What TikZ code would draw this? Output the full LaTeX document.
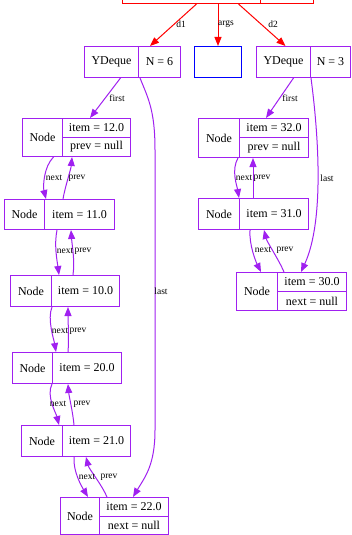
\documentclass[tikz,border=0pt]{standalone}
\usepackage{fontspec}
\setmainfont{Liberation Serif}
\usetikzlibrary{arrows.meta}
\definecolor{pur}{HTML}{A020F0}
\definecolor{rd}{HTML}{FF0000}
\definecolor{bl}{HTML}{0000FF}
\begin{document}
\begin{tikzpicture}[x=1pt,y=-1pt,
  fld/.style={draw=pur,line width=1pt,rectangle,inner sep=0pt,anchor=north west,font=\fontsize{12}{14}\selectfont},
  rfld/.style={fld,draw=rd},
  bfld/.style={fld,draw=bl},
  pe/.style={draw=pur,line width=1pt,-{Triangle[length=9pt,width=7pt]}},
  re/.style={draw=rd,line width=1pt,-{Triangle[length=9pt,width=7pt]}},
  lab/.style={inner sep=0pt,font=\fontsize{9.5}{11}\selectfont}]
\useasboundingbox (0,0) rectangle (351,535);
\clip (0,0) rectangle (351,535);
% top record
\node[rfld,minimum width=138pt,minimum height=23pt] (mainA) at (122,-20) {};
\node[rfld,minimum width=53pt,minimum height=23pt] (mainB) at (260,-20) {};
% deques
\node[fld,minimum width=54pt,minimum height=31pt] (yd1Y) at (84,46) {YDeque};
\node[fld,minimum width=42pt,minimum height=31pt] (yd1N) at (138,46) {N = 6};
\node[bfld,minimum width=47pt,minimum height=31pt] (blue) at (194,46) {};
\node[fld,minimum width=54pt,minimum height=31pt] (yd2Y) at (256,46) {YDeque};
\node[fld,minimum width=40pt,minimum height=31pt] (yd2N) at (310,46) {N = 3};
% left chain
\node[fld,minimum width=40pt,minimum height=38pt] (n1n) at (22,118) {Node};
\node[fld,minimum width=68pt,minimum height=19pt] (n1i) at (62,118) {item = 12.0};
\node[fld,minimum width=68pt,minimum height=19pt] (n1p) at (62,137) {prev = null};
\node[fld,minimum width=40pt,minimum height=30pt] (n2n) at (4,199) {Node};
\node[fld,minimum width=70pt,minimum height=30pt] (n2i) at (44,199) {item = 11.0};
\node[fld,minimum width=41pt,minimum height=31pt] (n3n) at (10,275) {Node};
\node[fld,minimum width=68pt,minimum height=31pt] (n3i) at (51,275) {item = 10.0};
\node[fld,minimum width=40pt,minimum height=31pt] (n4n) at (12,352) {Node};
\node[fld,minimum width=69pt,minimum height=31pt] (n4i) at (52,352) {item = 20.0};
\node[fld,minimum width=41pt,minimum height=31pt] (n5n) at (21,425) {Node};
\node[fld,minimum width=68pt,minimum height=31pt] (n5i) at (62,425) {item = 21.0};
\node[fld,minimum width=39pt,minimum height=37pt] (n6n) at (60,497) {Node};
\node[fld,minimum width=69pt,minimum height=18.5pt] (n6i) at (99,497) {item = 22.0};
\node[fld,minimum width=69pt,minimum height=18.5pt] (n6x) at (99,515.5) {next = null};
% right chain
\node[fld,minimum width=41pt,minimum height=39pt] (nAn) at (198,118) {Node};
\node[fld,minimum width=69pt,minimum height=19pt] (nAi) at (239,118) {item = 32.0};
\node[fld,minimum width=69pt,minimum height=20pt] (nAp) at (239,137) {prev = null};
\node[fld,minimum width=41pt,minimum height=31pt] (nBn) at (198,198) {Node};
\node[fld,minimum width=69pt,minimum height=31pt] (nBi) at (239,198) {item = 31.0};
\node[fld,minimum width=41pt,minimum height=38pt] (nCn) at (236,272) {Node};
\node[fld,minimum width=69pt,minimum height=19pt] (nCi) at (277,272) {item = 30.0};
\node[fld,minimum width=69pt,minimum height=19pt] (nCx) at (277,291) {next = null};
% red edges
\draw[re] ([xshift=5pt]mainA.south) -- ([xshift=12pt]yd1N.north west);
\draw[re] ([xshift=26.5pt]mainA.south) -- (blue.north);
\draw[re] ([xshift=47pt]mainA.south) -- ([xshift=2pt]yd2Y.north);
\node[lab] (ld1) at (181,24) {d1};
\node[lab] (largs) at (226,24) {args};
\node[lab] (ld2) at (273,24) {d2};
% left deque edges
\draw[pe] ([xshift=9pt]yd1Y.south) -- ([xshift=28pt]n1i.north west);
\node[lab] (lf1) at (117,98) {first};
\draw[pe] ([xshift=2pt]yd1N.south west) .. controls +(8,20) and (155,110) .. (155,150) -- (155,430) .. controls (155,465) and +(12,-20) .. ([xshift=34pt]n6i.north west);
\node[lab] (ll1) at (161,291) {last};
% left chain edges
\draw[pe] ([xshift=11pt]n1n.south) .. controls +(-10,10) and +(-3,-12) .. ([xshift=2pt]n2i.north west);
\draw[pe] ([xshift=19pt]n2i.north west) .. controls +(2,-12) and +(-1,12) .. ([xshift=10pt]n1p.south west);
\node[lab] (lx1) at (54,178) {next};
\node[lab] (lp1) at (77,178) {prev};
\draw[pe] ([xshift=13pt]n2i.south west) .. controls +(-3,15) and +(-2,-15) .. ([xshift=8pt]n3i.north west);
\draw[pe] ([xshift=22pt]n3i.north west) .. controls +(2,-15) and +(1,15) .. ([xshift=27pt]n2i.south west);
\node[lab] (lx2) at (65,251) {next};
\node[lab] (lp2) at (83,251) {prev};
\draw[pe] ([xshift=1pt]n3i.south west) .. controls +(-5,12) and +(-2,-12) .. ([xshift=4pt]n4i.north west);
\draw[pe] ([xshift=16pt]n4i.north west) .. controls +(1,-12) and +(0,12) .. ([xshift=17pt]n3i.south west);
\node[lab] (lx3) at (60,331) {next};
\node[lab] (lp3) at (78,331) {prev};
\draw[pe] (n4i.south west) .. controls +(-6,12) and +(-3,-12) .. ([xshift=-3pt]n5i.north west);
\draw[pe] ([xshift=12pt]n5i.north west) .. controls +(-1,-12) and +(1,12) .. ([xshift=16pt]n4i.south west);
\node[lab] (lx4) at (58,404) {next};
\node[lab] (lp4) at (82,404) {prev};
\draw[pe] ([xshift=12pt]n5i.south west) .. controls +(-1,15) and +(-6,-10) .. ([xshift=-11pt]n6i.north west);
\draw[pe] ([xshift=8pt]n6i.north west) .. controls +(-5,-12) and +(3,12) .. ([xshift=24pt]n5i.south west);
\node[lab] (lx5) at (87,477) {next};
\node[lab] (lp5) at (109,477) {prev};
% right deque edges
\draw[pe] ([xshift=10pt]yd2Y.south) -- ([xshift=27pt]nAi.north west);
\node[lab] (lf2) at (290,98) {first};
\draw[pe] ([xshift=1pt]yd2N.south west) .. controls +(7,53) and +(24,-52) .. ([xshift=24pt]nCi.north west);
\node[lab] (ll2) at (327,178) {last};
% right chain edges
\draw[pe] ([xshift=-1pt]nAp.south west) .. controls +(-7,12) and +(-2,-12) .. (nBi.north west);
\draw[pe] ([xshift=14pt]nBi.north west) -- ([xshift=14pt]nAp.south west);
\node[lab] (lxA) at (244,178) {next};
\node[lab] (lpA) at (262,178) {prev};
\draw[pe] ([xshift=11pt]nBi.south west) .. controls +(-1,15) and +(-5,-10) .. ([xshift=-16pt]nCi.north west);
\draw[pe] ([xshift=7pt]nCi.north west) .. controls +(-5,-12) and +(3,12) .. ([xshift=25pt]nBi.south west);
\node[lab] (lxB) at (263,250) {next};
\node[lab] (lpB) at (285,250) {prev};
\end{tikzpicture}
\end{document}
